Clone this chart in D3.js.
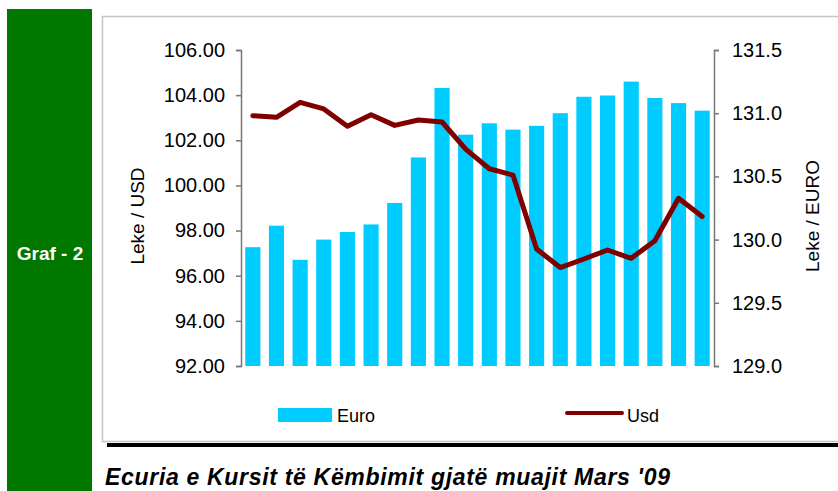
<!DOCTYPE html>
<html>
<head>
<meta charset="utf-8">
<script src="https://cdn.jsdelivr.net/npm/d3@7"></script>
<style>
  body { margin: 0; background: #fff; }
  svg { display: block; font-family: 'Liberation Sans', Arial, sans-serif; }
</style>
</head>
<body>
<script>
/**
 * Graf - 2 : Ecuria e Kursit te Kembimit, Mars '09
 */

// days of the month (20 working days)
var days = d3.range(1, 21);

// Leke / EURO (bars, right axis)
var euro = [129.94, 130.11, 129.84, 130.00, 130.06, 130.12, 130.29, 130.65, 131.20, 130.83,
            130.92, 130.87, 130.90, 131.00, 131.13, 131.14, 131.25, 131.12, 131.08, 131.02];

// Leke / USD (line, left axis)
var usd = [103.09, 103.02, 103.68, 103.39, 102.62, 103.13, 102.66, 102.90, 102.81, 101.61,
           100.74, 100.46, 97.18, 96.36, 96.74, 97.14, 96.77, 97.55, 99.43, 98.62];

var leftTicks = [92, 94, 96, 98, 100, 102, 104, 106];
var rightTicks = [129.0, 129.5, 130.0, 130.5, 131.0, 131.5];

var W = 838, H = 491;
var plot = { left: 241, right: 714, top: 50, bottom: 366 };

var svg = d3.select('body')
  .append('svg')
  .attr('width', W)
  .attr('height', H);

// green side label
svg.append('rect')
  .attr('x', 7).attr('y', 9)
  .attr('width', 85).attr('height', H - 9)
  .attr('fill', '#007800');

svg.append('text')
  .attr('x', 50).attr('y', 260)
  .attr('text-anchor', 'middle')
  .attr('fill', '#fff')
  .attr('font-weight', 'bold')
  .attr('font-size', 19)
  .text('Graf - 2');

// chart frame + shadow
svg.append('rect')
  .attr('x', 107).attr('y', 443)
  .attr('width', W - 107).attr('height', 4)
  .attr('fill', '#000');

svg.append('rect')
  .attr('x', 102.5).attr('y', 16.5)
  .attr('width', W).attr('height', 425)
  .attr('fill', '#fff')
  .attr('stroke', '#c4c4c4')
  .attr('stroke-width', 1.5);

// scales
var x = d3.scaleBand()
  .domain(days)
  .range([plot.left, plot.right])
  .paddingInner(0.36)
  .paddingOuter(0.18);

var yLeft = d3.scaleLinear()
  .domain([92, 106])
  .range([plot.bottom, plot.top]);

var yRight = d3.scaleLinear()
  .domain([129, 131.5])
  .range([plot.bottom, plot.top]);

// bars (Euro)
svg.append('g')
  .selectAll('rect')
  .data(euro)
  .enter()
  .append('rect')
  .attr('x', function(d, i) { return x(days[i]); })
  .attr('y', function(d) { return yRight(d); })
  .attr('width', x.bandwidth())
  .attr('height', function(d) { return plot.bottom - yRight(d); })
  .attr('fill', '#00ccff');

// line (Usd)
var line = d3.line()
  .x(function(d, i) { return x(days[i]) + x.bandwidth() / 2; })
  .y(function(d) { return yLeft(d); });

svg.append('path')
  .datum(usd)
  .attr('d', line)
  .attr('fill', 'none')
  .attr('stroke', '#800000')
  .attr('stroke-width', 5)
  .attr('stroke-linejoin', 'round')
  .attr('stroke-linecap', 'round');

// axes
var axisL = svg.append('g')
  .attr('transform', 'translate(' + plot.left + ',0)')
  .call(d3.axisLeft(yLeft)
    .tickValues(leftTicks)
    .tickFormat(d3.format('.2f'))
    .tickSize(5)
    .tickPadding(11));

var axisR = svg.append('g')
  .attr('transform', 'translate(' + plot.right + ',0)')
  .call(d3.axisRight(yRight)
    .tickValues(rightTicks)
    .tickFormat(d3.format('.1f'))
    .tickSize(5)
    .tickPadding(13));

[axisL, axisR].forEach(function(a) {
  a.selectAll('path, line').attr('stroke', '#777').attr('stroke-width', 1.5);
  a.selectAll('text')
    .attr('font-family', "'Liberation Sans', Arial, sans-serif")
    .attr('font-size', 20)
    .attr('fill', '#000');
});

// axis titles
svg.append('text')
  .attr('transform', 'translate(144,216) rotate(-90)')
  .attr('text-anchor', 'middle')
  .attr('font-size', 19)
  .text('Leke / USD');

svg.append('text')
  .attr('transform', 'translate(819,216) rotate(-90)')
  .attr('text-anchor', 'middle')
  .attr('font-size', 19)
  .text('Leke / EURO');

// legend
svg.append('rect')
  .attr('x', 278).attr('y', 408)
  .attr('width', 54).attr('height', 14)
  .attr('fill', '#00ccff');

svg.append('text')
  .attr('x', 337).attr('y', 422)
  .attr('font-size', 18)
  .text('Euro');

svg.append('line')
  .attr('x1', 567).attr('x2', 622)
  .attr('y1', 413).attr('y2', 413)
  .attr('stroke', '#800000')
  .attr('stroke-width', 4)
  .attr('stroke-linecap', 'round');

svg.append('text')
  .attr('x', 627).attr('y', 422)
  .attr('font-size', 18)
  .text('Usd');

// caption
svg.append('text')
  .attr('x', 105).attr('y', 485)
  .attr('font-size', 23)
  .attr('font-style', 'italic')
  .attr('font-weight', 'bold')
  .attr('textLength', 565)
  .attr('lengthAdjust', 'spacing')
  .text("Ecuria e Kursit të Këmbimit gjatë muajit Mars '09");
</script>
</body>
</html>
